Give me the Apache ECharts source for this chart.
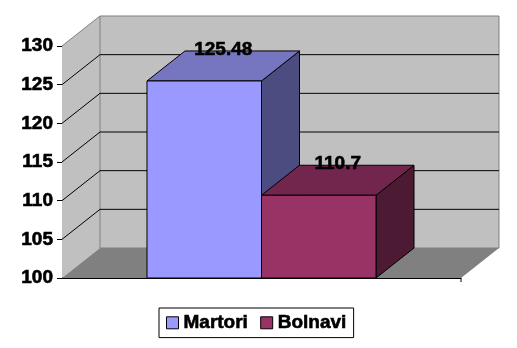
<!DOCTYPE html>
<html>
<head>
<meta charset="utf-8">
<script src="https://cdn.jsdelivr.net/npm/echarts@6/dist/echarts.min.js"></script>
<style>html,body{margin:0;padding:0;background:#fff}#c{width:517px;height:348px}</style>
</head>
<body>
<div id="c"></div>
<script>
const categories = [''];
const seriesNames = ['Martori', 'Bolnavi'];
const martori = [125.48];
const bolnavi = [110.7];
const yMin = 100, yMax = 130, yStep = 5;
const gridTicks = [105, 110, 115, 120, 125];

const FONT = '"Liberation Sans", Arial, sans-serif';
const DX = 38, DY = -30;          // depth offset of the 3D box
const BAR_FRAC = 0.287;           // bar width as fraction of category band
const colors = {
  Martori: { front: '#9999FF', top: '#7575C0', side: '#4C4C80' },
  Bolnavi: { front: '#993366', top: '#73264D', side: '#4D1A33' }
};
const heavy = { textBorderColor: '#000', textBorderWidth: 0.6 };

function renderWalls(params, api) {
  const cs = params.coordSys;
  const x0 = cs.x, x1 = cs.x + cs.width;
  const yTop = api.coord([0, yMax])[1];
  const yBot = api.coord([0, yMin])[1];
  const children = [];
  children.push({ type: 'polygon', shape: { points: [[x0, yTop], [x0 + DX, yTop + DY], [x0 + DX, yBot + DY], [x0, yBot]] },
    style: { fill: '#C0C0C0', stroke: null } });
  children.push({ type: 'rect', shape: { x: x0 + DX, y: yTop + DY, width: x1 - x0, height: yBot - yTop },
    style: { fill: '#C0C0C0', stroke: '#808080', lineWidth: 1 } });
  children.push({ type: 'polygon', shape: { points: [[x0, yBot], [x1, yBot], [x1 + DX, yBot + DY], [x0 + DX, yBot + DY]] },
    style: { fill: '#808080', stroke: null } });
  children.push({ type: 'line', shape: { x1: x0, y1: yTop, x2: x0 + DX, y2: yTop + DY }, style: { stroke: '#808080', lineWidth: 1 } });
  gridTicks.forEach(function (v) {
    const y = api.coord([0, v])[1];
    children.push({ type: 'line', shape: { x1: x0, y1: y, x2: x0 + DX, y2: y + DY }, style: { stroke: '#000', lineWidth: 1 } });
    children.push({ type: 'line', shape: { x1: x0 + DX, y1: y + DY, x2: x1 + DX, y2: y + DY }, style: { stroke: '#000', lineWidth: 1 } });
  });
  children.push({ type: 'line', shape: { x1: x1, y1: yBot, x2: x1, y2: yBot + 4 }, style: { stroke: '#000', lineWidth: 1 } });
  return { type: 'group', children: children };
}

function makeBarRenderer(idx, name) {
  return function (params, api) {
    const c = api.value(0), v = api.value(1);
    const top = api.coord([c, v]);
    const base = api.coord([c, yMin]);
    const band = api.size([1, 0])[0];
    const w = band * BAR_FRAC;
    const L = top[0] - w + idx * w, R = L + w;
    const yT = top[1], yB = base[1];
    const col = colors[name];
    const st = function (f) { return { fill: f, stroke: '#000', lineWidth: 1 }; };
    return { type: 'group', children: [
      { type: 'polygon', shape: { points: [[R, yT], [R + DX, yT + DY], [R + DX, yB + DY], [R, yB]] }, style: st(col.side) },
      { type: 'polygon', shape: { points: [[L, yT], [L + DX, yT + DY], [R + DX, yT + DY], [R, yT]] }, style: st(col.top) },
      { type: 'rect', shape: { x: L, y: yT, width: w, height: yB - yT }, style: st(col.front) },
      { type: 'text', style: { text: String(v), x: L + w / 2 + DX / 2, y: yT + DY - 1, align: 'center', verticalAlign: 'middle',
        fontFamily: FONT, fontWeight: 'bold', fontSize: 19, fill: '#000', stroke: '#000', lineWidth: 0.6 } }
    ] };
  };
}

const chart = echarts.init(document.getElementById('c'), null, { renderer: 'canvas' });
chart.setOption({
  animation: false,
  backgroundColor: '#fff',
  grid: { left: 62, right: 56, top: 46, bottom: 70, containLabel: false },
  xAxis: {
    type: 'category', data: categories,
    axisLine: { show: true, lineStyle: { color: '#000', width: 1 } },
    axisTick: { show: false }, axisLabel: { show: false }, splitLine: { show: false }
  },
  yAxis: {
    type: 'value', min: yMin, max: yMax, interval: yStep,
    axisLine: { show: true, lineStyle: { color: '#000', width: 1 } },
    axisTick: { show: true, length: 5, lineStyle: { color: '#000' } },
    axisLabel: Object.assign({ margin: 9, color: '#000', fontFamily: FONT, fontWeight: 'bold', fontSize: 19 }, heavy),
    splitLine: { show: false }
  },
  legend: {
    left: 159, top: 308,
    data: seriesNames.map(function (n) { return { name: n, itemStyle: { color: colors[n].front, borderColor: '#000', borderWidth: 1 } }; }),
    icon: 'rect', itemWidth: 12, itemHeight: 12, itemGap: 12,
    borderColor: '#000', borderWidth: 1, padding: [5, 7, 5, 7],
    textStyle: Object.assign({ color: '#000', fontFamily: FONT, fontWeight: 'bold', fontSize: 19 }, heavy)
  },
  series: [
    { type: 'custom', name: '_walls', renderItem: renderWalls, data: [[0, yMin]], silent: true, z: 1 },
    { type: 'custom', name: 'Martori', renderItem: makeBarRenderer(0, 'Martori'), itemStyle: { color: colors.Martori.front },
      data: martori.map(function (v, i) { return [i, v]; }), z: 2 },
    { type: 'custom', name: 'Bolnavi', renderItem: makeBarRenderer(1, 'Bolnavi'), itemStyle: { color: colors.Bolnavi.front },
      data: bolnavi.map(function (v, i) { return [i, v]; }), z: 3 }
  ]
});
</script>
</body>
</html>
